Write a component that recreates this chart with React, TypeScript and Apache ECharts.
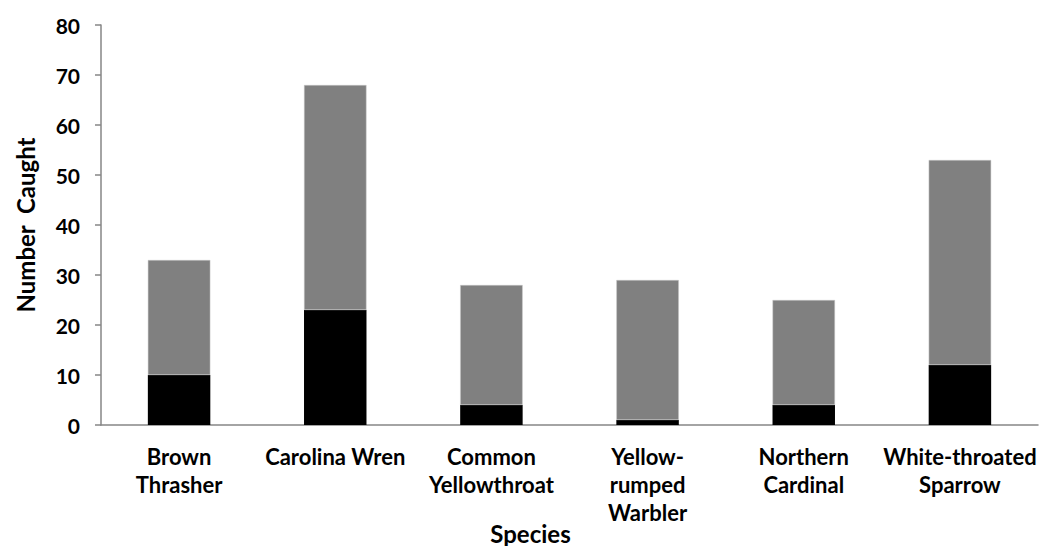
import React, { useEffect, useRef } from "react";
import * as echarts from "echarts";

const categories = [
  "Brown\nThrasher",
  "Carolina Wren",
  "Common\nYellowthroat",
  "Yellow-\nrumped\nWarbler",
  "Northern\nCardinal",
  "White-throated\nSparrow",
];
const blackValues = [10, 23, 4, 1, 4, 12];
const grayValues = [23, 45, 24, 28, 21, 41];
const yTicks = { min: 0, max: 80, interval: 10 };

const FONT = "Lato, 'Open Sans', sans-serif";

export default function App() {
  const ref = useRef<HTMLDivElement>(null);
  useEffect(() => {
    if (!ref.current) return;
    const chart = echarts.init(ref.current, null, { renderer: "svg" });
    chart.setOption({
      animation: false,
      backgroundColor: "#ffffff",
      grid: { left: 101, top: 25, right: 5, bottom: 121, containLabel: false, outerBoundsMode: "none" },
      xAxis: {
        type: "category",
        data: categories,
        name: "Species",
        nameLocation: "middle",
        nameGap: 96,
        nameMoveOverlap: false,
        nameTextStyle: {
          fontFamily: FONT,
          fontWeight: "bold",
          fontSize: 24,
          color: "#000",
          padding: [0, 78, 0, 0],
        },
        axisLine: { lineStyle: { color: "#868686", width: 1.5 } },
        axisTick: { show: false },
        axisLabel: {
          fontFamily: FONT,
          fontWeight: "bold",
          fontSize: 22,
          color: "#000",
          margin: 17,
          lineHeight: 28,
          interval: 0,
          verticalAlign: "top",
        },
      },
      yAxis: {
        type: "value",
        min: yTicks.min,
        max: yTicks.max,
        interval: yTicks.interval,
        name: "Number  Caught",
        nameLocation: "middle",
        nameGap: 64,
        nameMoveOverlap: false,
        nameTextStyle: { fontFamily: FONT, fontWeight: "bold", fontSize: 24, color: "#000" },
        axisLine: { show: true, lineStyle: { color: "#868686", width: 1.5 } },
        axisTick: { show: true, length: 6, lineStyle: { color: "#868686", width: 1.5 } },
        splitLine: { show: false },
        axisLabel: {
          fontFamily: FONT,
          fontWeight: "bold",
          fontSize: 21,
          color: "#000",
          margin: 21,
        },
      },
      series: [
        {
          type: "bar",
          stack: "total",
          data: blackValues,
          barWidth: "40%",
          itemStyle: { color: "#000000" },
        },
        {
          type: "bar",
          stack: "total",
          data: grayValues,
          barWidth: "40%",
          itemStyle: { color: "#808080", borderColor: "#c8c8c8", borderWidth: 0.5 },
        },
      ],
    });
    return () => chart.dispose();
  }, []);
  return <div ref={ref} style={{ width: 1043, height: 546, position: "absolute", left: 0, top: 0 }} />;
}
